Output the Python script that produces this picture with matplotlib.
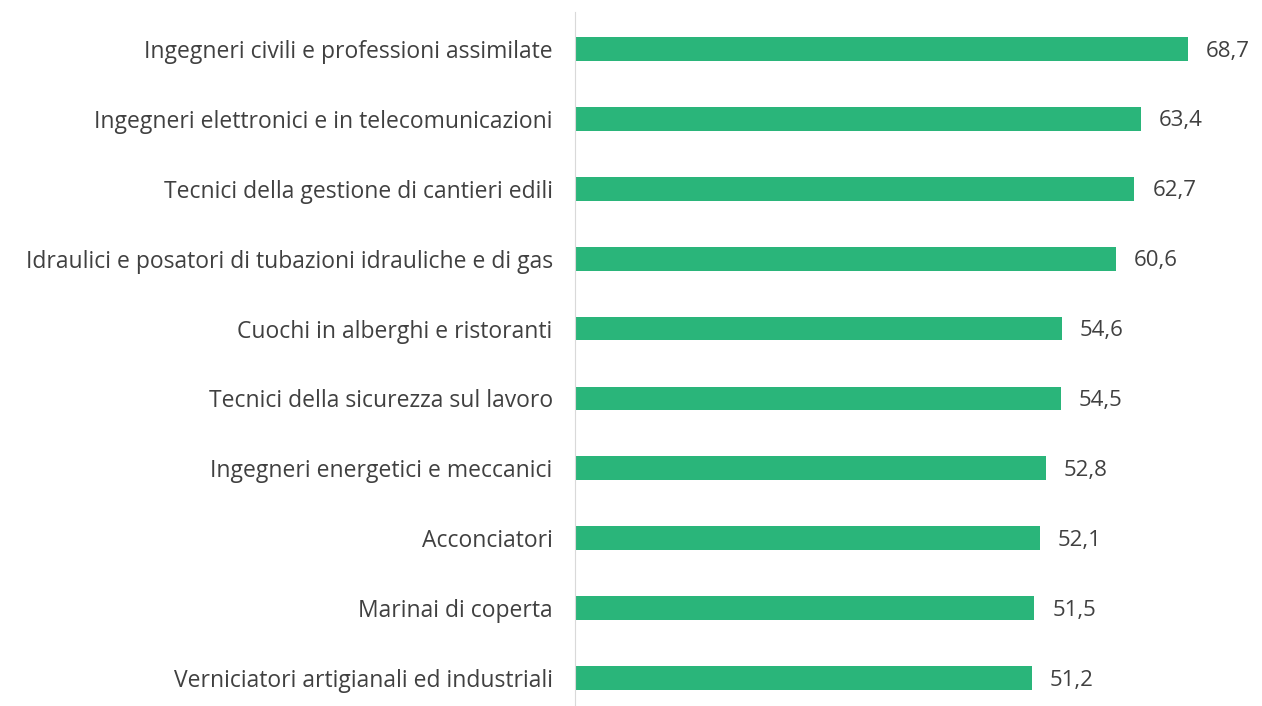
import matplotlib.pyplot as plt

categorie = ['Ingegneri civili e professioni assimilate',
             'Ingegneri elettronici e in telecomunicazioni',
             'Tecnici della gestione di cantieri edili',
             'Idraulici e posatori di tubazioni idrauliche e di gas',
             'Cuochi in alberghi e ristoranti',
             'Tecnici della sicurezza sul lavoro',
             'Ingegneri energetici e meccanici',
             'Acconciatori',
             'Marinai di coperta',
             'Verniciatori artigianali ed industriali']
valori = [68.7, 63.4, 62.7, 60.6, 54.6, 54.5, 52.8, 52.1, 51.5, 51.2]
etichette = ['68,7', '63,4', '62,7', '60,6', '54,6', '54,5', '52,8', '52,1', '51,5', '51,2']

plt.rcParams['font.family'] = ['Open Sans', 'DejaVu Sans']
verde = '#2ab57a'
grigio = '#404040'

fig = plt.figure(figsize=(12.62, 7.06), dpi=100)
ax = fig.add_axes([0.4556, 0, 0.5444, 1])

pos = list(range(len(categorie)))
ax.barh(pos, valori, height=0.34, color=verde)
for p, v, t in zip(pos, valori, etichette):
    ax.text(v + 2.0, p + 0.03, t, va='center', ha='left', fontsize=16, color=grigio)

ax.set_xlim(0, 77)
ax.set_ylim(9.4, -0.70)
ax.set_yticks(pos)
ax.set_yticklabels(categorie, fontsize=16.5, color=grigio)
ax.tick_params(axis='y', length=0, pad=16)
ax.set_xticks([])
for s in ['top', 'right', 'bottom']:
    ax.spines[s].set_visible(False)
ax.spines['left'].set_color('#d9d9d9')
ax.spines['left'].set_bounds(9.4, -0.53)

fig.savefig('out.png', dpi=100)
